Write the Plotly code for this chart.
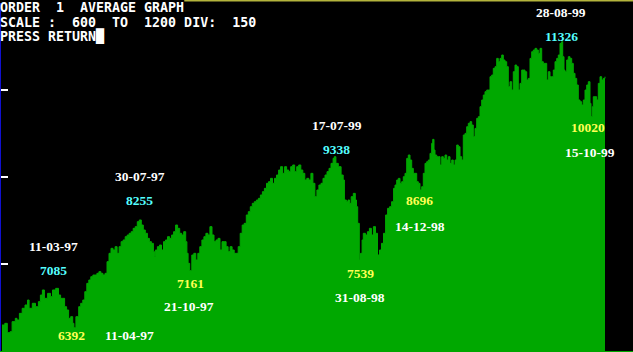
import plotly.graph_objects as go

# ---- data ----
session = [2.0, 4.8, 7.3, 10.1, 12.1, 15.3, 17.0, 19.4, 22.2, 25.0, 27.5, 29.1, 32.3, 35.5, 38.4, 40.4,
           42.4, 44.4, 47.6, 50.5, 52.5, 55.7, 58.5, 60.6, 62.6, 64.6, 66.6, 68.6, 70.7, 72.7, 73.9,
           75.9, 78.7, 80.7, 82.8, 84.8, 86.8, 88.8, 90.8, 92.9, 94.9, 96.9, 98.9, 100.9, 102.9, 105.0,
           107.0, 109.0, 111.0, 113.0, 115.1, 117.1, 119.1, 121.1, 123.1, 125.2, 127.2, 129.2, 131.2,
           133.2, 135.2, 137.3, 139.3, 141.3, 143.3, 145.3, 147.4, 149.4, 151.4, 153.4, 154.6, 155.4,
           157.4, 159.5, 161.5, 163.5, 165.5, 167.5, 169.6, 171.6, 173.6, 175.6, 177.6, 179.7, 181.7,
           183.7, 185.7, 186.9, 188.1, 189.7, 191.8, 193.8, 195.8, 197.8, 199.8, 201.9, 203.9, 205.9,
           207.9, 209.9, 212.0, 214.0, 216.0, 218.0, 220.0, 222.0, 224.1, 226.1, 228.1, 230.1, 232.1,
           234.2, 236.2, 238.2, 240.2, 242.2, 244.2, 246.3, 248.3, 250.3, 252.3, 254.3, 256.4, 258.4,
           260.4, 262.4, 264.4, 266.5, 268.5, 270.5, 272.5, 274.5, 276.5, 278.6, 280.6, 282.6, 284.6,
           286.6, 288.7, 290.7, 292.7, 294.7, 296.7, 298.7, 300.8, 302.8, 304.8, 306.8, 308.8, 310.9,
           312.9, 314.9, 316.9, 318.9, 321.0, 323.0, 325.0, 327.0, 329.0, 331.0, 333.1, 334.3, 335.9,
           338.3, 341.1, 343.2, 344.4, 346.4, 348.0, 349.6, 351.2, 353.3, 355.3, 356.5, 357.7, 359.3,
           360.5, 362.1, 363.3, 365.4, 367.4, 369.4, 371.4, 373.4, 375.5, 377.5, 379.5, 381.5, 383.5,
           385.6, 387.6, 389.6, 391.6, 393.6,
           395.0, 396.7, 398.3, 400.0, 401.7, 403.3, 405.0, 406.7, 408.3, 410.0, 411.7, 413.3, 415.0,
           416.7, 418.3, 420.0, 421.7, 423.3, 425.0, 426.7, 428.3, 430.0, 431.7, 432.7, 434.0, 435.0,
           436.7, 438.3, 440.0, 441.7, 443.3, 445.0, 446.7, 448.3, 450.0, 451.7, 453.3, 455.0, 456.7,
           458.3, 460.0, 461.7, 463.3, 465.0, 466.7, 468.3, 470.0, 471.7, 473.3, 475.0, 476.7, 478.3,
           480.0, 481.7, 483.3, 485.0, 486.7, 488.3, 490.0, 491.7, 493.3, 495.0, 496.7, 498.3, 500.0,
           501.7, 503.3, 505.0, 506.7, 508.3, 510.0, 511.7, 513.3, 515.0, 516.7, 518.3, 520.0, 521.7,
           523.3, 525.0, 526.7, 528.3, 530.0, 531.7, 533.3, 535.0, 536.7, 538.3, 540.0, 541.7, 543.3,
           545.0, 546.7, 548.3, 550.0, 551.7, 553.3, 555.0, 556.7, 558.3, 560.0, 561.7, 562.7, 564.0,
           565.0, 566.7, 568.3, 570.0, 571.7, 573.3, 575.0, 576.7, 578.3, 580.0, 581.7, 583.3, 585.0,
           586.7, 588.3, 590.0, 591.0, 592.3, 593.3, 595.0, 596.7, 598.3, 600.0, 601.7, 603.3, 605.0]

average = [6448, 6477, 6316, 6333, 6506, 6563, 6534, 6649, 6736, 6793, 6879, 6736, 6822, 6764, 6851, 6965,
           7052, 6908, 6994, 6937, 7052, 7080, 6965, 6908, 6908, 6764, 6707, 6563, 6592, 6477, 6400,
           6592, 6764, 6822, 6879, 7023, 7166, 7224, 7281, 7310, 7310, 7339, 7368, 7339, 7310, 7339,
           7540, 7684, 7770, 7741, 7799, 7684, 7799, 7885, 7914, 7971, 8000, 8029, 8057,
           8115, 8144, 8230, 8259, 8172, 8086, 8029, 7942, 7885, 7856, 7713, 7626, 7741,
           7799, 7827, 7741, 7885, 7914, 7971, 7942, 8000, 8057, 8172, 8115, 8029, 8000,
           8057, 7885, 7684, 7511, 7385, 7655, 7684, 7569, 7684, 7799, 7914, 7971, 8029,
           8000, 8144, 8000, 7885, 7914, 7942, 7741, 7885, 7885, 7799, 7713, 7799, 7741,
           7684, 7684, 7799, 8029, 8172, 8201, 8345, 8402, 8488, 8546, 8574, 8603, 8632,
           8690, 8747, 8804, 8891, 8919, 8977, 8891, 8977, 9034, 9120, 9178, 9063, 9178,
           9120, 9092, 9178, 9207, 9092, 9178, 9207, 9120, 9063, 8948, 8977, 8948, 9063,
           8891, 8661, 8776, 8862, 8891, 8977, 9034, 9092, 9149, 9235, 9322, 9350, 9235,
           9178, 9034, 8948, 8603, 8574, 8603, 8546, 8661, 8718, 8603, 8488, 8201, 7569,
           7684, 7914, 8029, 8000, 8057, 8115, 8000, 8144, 8029, 7655, 7741, 7856, 8029,
           8345, 8460, 8488, 8574, 8804,
           8861, 8948, 8976, 8890, 8919, 9005, 9063, 9321, 9379, 9292, 9149, 9063, 9063,
           8919, 8890, 8775, 8833, 9063, 9235, 9264, 9292, 9407, 9580, 9649, 9465, 9379,
           9350, 9350, 9206, 9350, 9321, 9379, 9292, 9350, 9235, 9292, 9206, 9292, 9551,
           9522, 9350, 9292, 9724, 9752, 9867, 9925, 9954, 9896, 9695, 9838, 10011, 10040,
           10212, 10327, 10413, 10471, 10499, 10499, 10729, 10758, 10873, 10902, 11045, 10988, 11045,
           11103, 11017, 10988, 10902, 10557, 10643, 10499, 10815, 10930, 10902, 10499, 10614, 10844,
           10844, 10815, 10672, 10700, 11045, 11160, 11189, 11218, 11189, 11131, 11218, 10988, 10959,
           10959, 10672, 10815, 10729, 10729, 10844, 10988, 11045, 11103, 11304, 11333, 11074, 10844,
           10815, 11017, 11074, 11045, 10959, 10787, 10700, 10586, 10327, 10298, 10241, 10327, 10499,
           10586, 10643, 10269, 10040, 10212, 10384, 10384, 10327, 10614, 10729, 10672, 10700, 10729]

# labelled turning points: (session, value-position, text, kind)
label_session = [53.5, 53.7, 71.7, 129.0, 139.5, 139.7, 190.3, 189.0, 336.7, 336.3, 360.3, 359.7,
                 419.5, 419.5, 560.5, 561.3, 588.0, 589.7]
label_level = [7798, 7388, 6259, 6259, 9008, 8591, 7172, 6764, 9884, 9470, 7333, 6922,
               8591, 8143, 11839, 11425, 9845, 9426]
label_text = ["11-03-97", "7085", "6392", "11-04-97", "30-07-97", "8255", "7161", "21-10-97",
              "17-07-99", "9338", "7539", "31-08-98", "8696", "14-12-98", "28-08-99", "11326",
              "10020", "15-10-99"]
label_kind = ["date", "high", "low", "date", "date", "high", "low", "date",
              "date", "high", "low", "date", "low", "date", "date", "high", "low", "date"]

header_lines = ["ORDER  1  AVERAGE GRAPH",
                "SCALE :  600  TO  1200 DIV:  150",
                "PRESS RETURN\u2588"]
y_ticks = [7500, 9000, 10500]

# ---- styling ----
GREEN = "#00A800"
kind_color = {"date": "#FFFFFF", "high": "#55FFFF", "low": "#FFFF55"}

fig = go.Figure()
fig.add_trace(go.Scatter(
    x=session, y=average, mode="lines", line=dict(color=GREEN, width=1, shape="hv"),
    fill="tozeroy", fillcolor=GREEN, hoverinfo="skip", showlegend=False))

annotations = []
for xs, yl, tx, kd in zip(label_session, label_level, label_text, label_kind):
    annotations.append(dict(
        x=xs, y=yl, xref="x", yref="y", text="<b>" + tx + "</b>", showarrow=False,
        xanchor="center", yanchor="middle",
        font=dict(family="Liberation Serif", size=13.5, color=kind_color[kd])))

header_y = [0.9871, 0.944, 0.9023]
for line, yy in zip(header_lines, header_y):
    annotations.append(dict(
        x=0, y=yy, xref="paper", yref="paper", text="<b>" + line + "</b>", showarrow=False,
        xanchor="left", yanchor="middle", xshift=-3,
        font=dict(family="DejaVu Sans Mono", size=13.3, color="#FFFFFF")))

fig.update_layout(
    width=633, height=352, margin=dict(l=1, r=0, t=3, b=1),
    paper_bgcolor="#000000", plot_bgcolor="#000000",
    annotations=annotations, showlegend=False,
    shapes=[dict(type="line", xref="paper", yref="paper", x0=0.29, x1=1.0, y0=1.0075, y1=1.0075,
                 line=dict(color="#B4B43C", width=2), layer="above")],
)
fig.update_xaxes(range=[1, 633], showgrid=False, zeroline=False, showticklabels=False,
                 ticks="", showline=True, linecolor=GREEN, linewidth=1)
fig.update_yaxes(range=[6000, 12000], showgrid=False, zeroline=False, showticklabels=False,
                 tickvals=y_ticks, ticks="inside", ticklen=7, tickwidth=2, tickcolor="#FFFFFF",
                 showline=True, linecolor="#1010D0", linewidth=2)

fig.write_html("out.html")
